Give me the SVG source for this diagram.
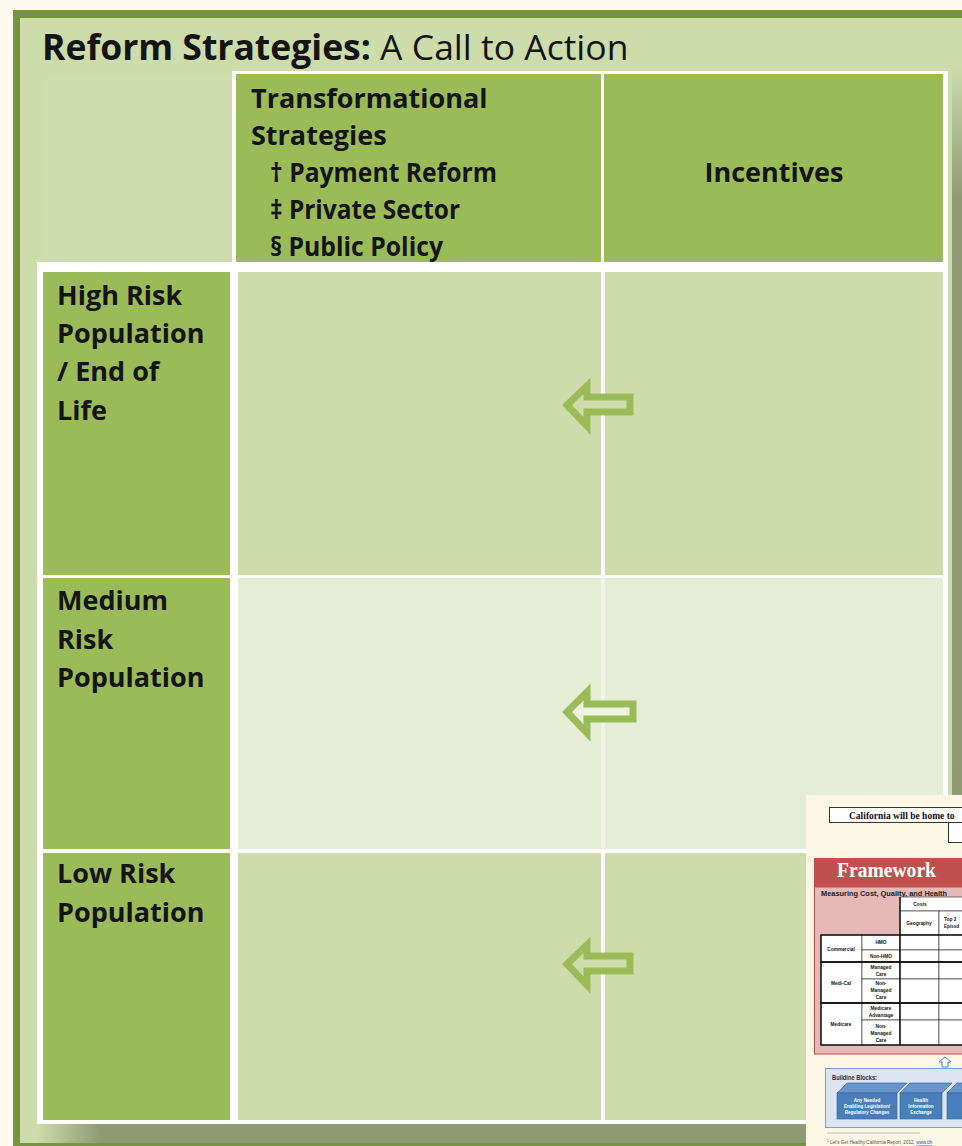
<svg xmlns="http://www.w3.org/2000/svg" width="962" height="1146" viewBox="0 0 962 1146">
<defs>
<style>
.t{font-family:"Open Sans","Liberation Sans",sans-serif;font-weight:bold;font-size:27px;fill:#141414}
.lbl{fill:#9bbb59}
.c1{fill:#cedcab}
.c2{fill:#e6edd5}
.arr{stroke:#9bbb59;stroke-width:7;stroke-linejoin:miter}
.it{font-family:"Liberation Sans","Open Sans",sans-serif;font-weight:bold;fill:#111;text-anchor:middle}
.bt{font-family:"Liberation Sans","Open Sans",sans-serif;font-weight:bold;fill:#fff;text-anchor:middle;font-size:4.6px}
</style>
<linearGradient id="gr" x1="0" y1="0" x2="0" y2="1">
<stop offset="0" stop-color="#cddcab"/>
<stop offset="0.12" stop-color="#919b76"/>
<stop offset="1" stop-color="#8f9a74"/>
</linearGradient>
<linearGradient id="gb" x1="0" y1="0" x2="1" y2="0">
<stop offset="0" stop-color="#cddcab"/>
<stop offset="0.07" stop-color="#8f9a74"/>
<stop offset="1" stop-color="#8f9a74"/>
</linearGradient>
<clipPath id="ic"><rect x="806" y="795" width="156" height="351"/></clipPath>
</defs>
<rect x="0" y="0" width="962" height="1146" fill="#fcf9ee"/>
<g id="slide">
<rect x="13" y="10" width="949" height="1136" fill="#77933c"/>
<rect x="20" y="18" width="942" height="1125" fill="#cddcab"/>
<rect x="952" y="66" width="10" height="1077" fill="url(#gr)"/>
<rect x="37" y="1124" width="915" height="19" fill="url(#gb)"/>
</g>
<g id="title">
<text x="42" y="60" font-family="Open Sans, Liberation Sans, sans-serif" font-size="35.5" fill="#141414"><tspan font-weight="bold">Reform Strategies:</tspan> A Call to Action</text>
</g>
<g id="table-frame">
<rect x="232" y="71" width="716" height="195" fill="#ffffff"/>
<rect x="37" y="262" width="911" height="862" fill="#ffffff"/>
<rect x="42" y="74" width="190" height="188" fill="#cfddae"/>
</g>
<g id="header-transformational">
<rect x="236" y="74" width="365" height="188" class="lbl"/>
<text class="t" x="251" y="108">Transformational</text>
<text class="t" x="251" y="145">Strategies</text>
<text class="t" x="270" y="182" textLength="227" lengthAdjust="spacingAndGlyphs">† Payment Reform</text>
<text class="t" x="270" y="219" textLength="190" lengthAdjust="spacingAndGlyphs">‡ Private Sector</text>
<text class="t" x="270" y="256" textLength="173" lengthAdjust="spacingAndGlyphs">§ Public Policy</text>
</g>
<g id="header-incentives">
<rect x="604" y="74" width="339" height="188" class="lbl"/>
<text class="t" x="774" y="182" text-anchor="middle">Incentives</text>
</g>
<g id="row-high">
<rect x="43" y="272" width="187" height="303" class="lbl"/>
<rect x="238" y="272" width="363" height="303" class="c1"/>
<rect x="605" y="272" width="338" height="303" class="c1"/>
<text class="t" x="57" y="305">High Risk</text>
<text class="t" x="57" y="343">Population</text>
<text class="t" x="57" y="381">/ End of</text>
<text class="t" x="57" y="420">Life</text>
</g>
<g id="row-medium">
<rect x="43" y="578" width="187" height="271" class="lbl"/>
<rect x="238" y="578" width="363" height="271" class="c2"/>
<rect x="605" y="578" width="338" height="271" class="c2"/>
<rect x="601" y="578" width="4" height="271" fill="#f1f3ea"/>
<text class="t" x="57" y="610">Medium</text>
<text class="t" x="57" y="649">Risk</text>
<text class="t" x="57" y="687">Population</text>
</g>
<g id="row-low">
<rect x="43" y="853" width="187" height="267" class="lbl"/>
<rect x="238" y="853" width="363" height="267" class="c1"/>
<rect x="605" y="853" width="338" height="267" class="c1"/>
<text class="t" x="57" y="883">Low Risk</text>
<text class="t" x="57" y="922">Population</text>
</g>
<g id="connectors">
<polygon class="arr c1" points="567,405 587,386 587,397 630,397 630,412 587,412 587,426"/>
<polygon class="arr" fill="#eef3e2" points="567,712 587,692 587,704 633,704 633,719 587,719 587,733"/>
<polygon class="arr c1" points="567,964 587,945 587,956 630,956 630,971 587,971 587,985"/>
</g>
<g id="inset" clip-path="url(#ic)">
<rect x="806" y="795" width="156" height="351" fill="#fbf7e4"/>
<rect x="829.5" y="807.5" width="150" height="15" fill="#fff" stroke="#333" stroke-width="1"/>
<text x="849" y="818.5" font-family="Liberation Serif, serif" font-weight="bold" font-size="9.5" fill="#111">California will be home to</text>
<rect x="948.5" y="822.5" width="30" height="20" fill="#fff" stroke="#333" stroke-width="1"/>
<rect x="814.5" y="887" width="170" height="167" fill="#e6b9b8" stroke="#c0504d" stroke-width="1"/>
<rect x="814" y="858" width="150" height="29" fill="#c0504d"/>
<text x="837" y="877" font-family="Liberation Serif, serif" font-weight="bold" font-size="20" fill="#fff" textLength="99" lengthAdjust="spacingAndGlyphs">Framework</text>
<text x="821" y="896" font-family="Liberation Sans, sans-serif" font-weight="bold" font-size="7.5" fill="#222" textLength="126" lengthAdjust="spacingAndGlyphs">Measuring Cost, Quality, and Health</text>
<g fill="#fff" stroke="#222" stroke-width="0.6">
<rect x="900" y="897" width="90" height="14"/>
<rect x="900" y="911" width="39" height="24"/>
<rect x="939" y="911" width="51" height="24"/>
<rect x="821" y="935" width="41" height="27"/>
<rect x="862" y="935" width="38" height="15"/>
<rect x="862" y="950" width="38" height="12"/>
<rect x="821" y="962" width="41" height="41"/>
<rect x="862" y="962" width="38" height="17"/>
<rect x="862" y="979" width="38" height="24"/>
<rect x="821" y="1003" width="41" height="42"/>
<rect x="862" y="1003" width="38" height="17"/>
<rect x="862" y="1020" width="38" height="25"/>
<rect x="900" y="935" width="39" height="15"/><rect x="939" y="935" width="51" height="15"/>
<rect x="900" y="950" width="39" height="12"/><rect x="939" y="950" width="51" height="12"/>
<rect x="900" y="962" width="39" height="17"/><rect x="939" y="962" width="51" height="17"/>
<rect x="900" y="979" width="39" height="24"/><rect x="939" y="979" width="51" height="24"/>
<rect x="900" y="1003" width="39" height="17"/><rect x="939" y="1003" width="51" height="17"/>
<rect x="900" y="1020" width="39" height="25"/><rect x="939" y="1020" width="51" height="25"/>
</g>
<g fill="none" stroke="#111" stroke-width="1.4">
<rect x="821" y="935" width="170" height="27"/>
<rect x="821" y="962" width="170" height="41"/>
<rect x="821" y="1003" width="170" height="42"/>
<line x1="900" y1="897" x2="900" y2="1045"/>
</g>
<g class="it" font-size="4.8">
<text x="920" y="906">Costs</text>
<text x="919" y="925">Geography</text>
<text x="944" y="921" text-anchor="start">Top 2</text>
<text x="944" y="928" text-anchor="start" font-size="4.5">Episod</text>
<text x="841" y="951">Commercial</text>
<text x="881" y="944">HMO</text>
<text x="881" y="958">Non-HMO</text>
<text x="881" y="969">Managed</text>
<text x="881" y="976">Care</text>
<text x="841" y="985">Medi-Cal</text>
<text x="881" y="985">Non-</text>
<text x="881" y="992">Managed</text>
<text x="881" y="999">Care</text>
<text x="881" y="1010">Medicare</text>
<text x="881" y="1017">Advantage</text>
<text x="841" y="1026">Medicare</text>
<text x="881" y="1028">Non-</text>
<text x="881" y="1035">Managed</text>
<text x="881" y="1042">Care</text>
</g>
<polygon points="945,1057 951,1062 948,1062 948,1067 942,1067 942,1062 939,1062" fill="#fff" stroke="#4f81bd" stroke-width="1"/>
<rect x="825.5" y="1068.5" width="160" height="59" fill="#dbe5f1" stroke="#7f9fc8" stroke-width="1"/>
<text x="832" y="1080" font-family="Liberation Sans, sans-serif" font-weight="bold" font-size="7" fill="#1f3050" textLength="45" lengthAdjust="spacingAndGlyphs">Buildine Blocks:</text>
<g stroke="#2f5f98" stroke-width="0.6">
<polygon points="837,1093 847,1083 907,1083 897,1093" fill="#6a95cc"/>
<rect x="837" y="1093" width="60" height="26" fill="#4a7ebb"/>
<polygon points="900,1093 910,1083 952,1083 942,1093" fill="#6a95cc"/>
<rect x="900" y="1093" width="42" height="26" fill="#4a7ebb"/>
<polygon points="947,1093 957,1083 999,1083 989,1093" fill="#6a95cc"/>
<rect x="947" y="1093" width="42" height="26" fill="#4a7ebb"/>
</g>
<text class="bt" x="867" y="1102">Any Needed</text>
<text class="bt" x="867" y="1108">Enabling Legislation/</text>
<text class="bt" x="867" y="1114">Regulatory Changes</text>
<text class="bt" x="921" y="1102">Health</text>
<text class="bt" x="921" y="1108">Information</text>
<text class="bt" x="921" y="1114">Exchange</text>
<line x1="827" y1="1133" x2="920" y2="1133" stroke="#999" stroke-width="0.6"/>
<text x="827" y="1144" font-family="Liberation Sans, sans-serif" font-size="4.6" fill="#555"><tspan font-size="3" dy="-2">1</tspan><tspan dy="2"> Let's Get Healthy California Report, 2012, </tspan><tspan fill="#2a55c8" text-decoration="underline">www.dh</tspan></text>
</g>
</svg>
